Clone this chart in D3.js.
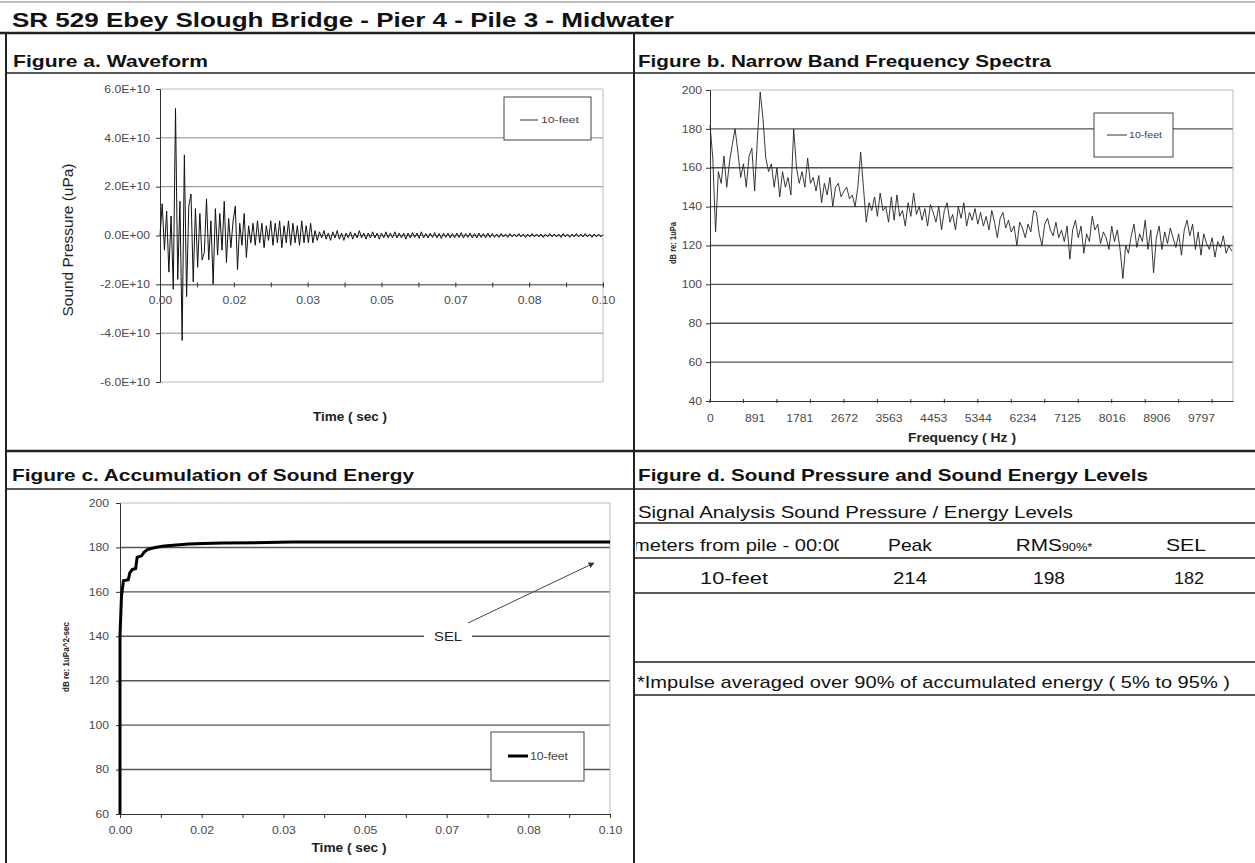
<!DOCTYPE html>
<html><head><meta charset="utf-8">
<script src="https://cdn.jsdelivr.net/npm/d3@7"></script>
<style>body{margin:0;background:#fff}svg{display:block}</style>
</head><body>
<svg id="c" width="1255" height="863"></svg>
<script>
// ---------------- DATA ----------------
const pageTitle = "SR 529 Ebey Slough Bridge - Pier 4 - Pile 3 - Midwater";
const panelTitles = ["Figure a. Waveform","Figure b. Narrow Band Frequency Spectra","Figure c. Accumulation of Sound Energy","Figure d. Sound Pressure and Sound Energy Levels"];
const seriesName = "10-feet";

// Figure a: waveform, sampled every 0.0005 s, values in 1E10 uPa
const waveStep = 0.0005;
const waveValues = [
0,1.3,-0.6,1.0,-1.5,0.8,-2.2,5.2,-1.8,1.4,-4.3,3.3,-2.5,1.2,1.7,-1.9,1.1,-1.3,0.9,-1.0,
-0.7,1.5,-1.0,0.6,-2.0,1.1,-0.8,0.9,-0.6,1.4,-1.1,0.7,-0.5,0.6,1.2,-1.4,0.5,-0.4,0.9,-0.9,
0.4,-0.3,0.5,-0.4,0.6,-0.3,0.5,-0.5,0.4,-0.2,0.6,-0.4,0.5,-0.3,0.6,-0.5,0.4,-0.3,0.6,-0.4,
0.5,-0.3,0.4,-0.4,0.6,-0.3,0.4,-0.3,0.5,-0.3,0.2,-0.2,
0.15,-0.1,0.2,-0.15,0.1,-0.2,0.15,-0.1,0.2,-0.15,
0.1,-0.2,0.1,-0.1,0.15,-0.15,0.1,-0.1,0.2,-0.1,
0.1,-0.15,0.1,-0.1,0.15,-0.1,0.1,-0.15,0.1,-0.1,
0.15,-0.1,0.1,-0.1,0.15,-0.1,0.1,-0.1,0.1,-0.15,
0.1,-0.1,0.12,-0.08,0.1,-0.12,0.15,-0.1,0.08,-0.1,
0.1,-0.08,0.12,-0.1,0.08,-0.12,0.1,-0.08,0.1,-0.1,
0.08,-0.1,0.1,-0.08,0.12,-0.1,0.08,-0.08,0.1,-0.1,
0.08,-0.1,0.1,-0.08,0.08,-0.1,0.1,-0.08,0.08,-0.08,
0.06,-0.08,0.08,-0.06,0.06,-0.08,0.08,-0.06,0.06,-0.06,
0.08,-0.06,0.06,-0.08,0.06,-0.06,0.08,-0.06,0.06,-0.06,
0.06,-0.08,0.06,-0.06,0.08,-0.06,0.06,-0.06,0.06,-0.08,
0.08,-0.06,0.06,-0.08,0.06,-0.06,0.08,-0.06,0.06,-0.06,
0.08,-0.06,0.06,-0.08,0.06,-0.06,0.06,-0.06,0.04
];
const pressureTicks = [6,4,2,0,-2,-4,-6];
const pressureTickLabels = ["6.0E+10","4.0E+10","2.0E+10","0.0E+00","-2.0E+10","-4.0E+10","-6.0E+10"];
const timeTickLabels = ["0.00","0.02","0.03","0.05","0.07","0.08","0.10"];

// Figure b: narrow band spectrum, one value every 891/16 Hz, dB re 1uPa
const freqStep = 891/16;
const spectrumValues = [
182,165,127,158,152,166,150,163,172,180,168,155,162,150,166,170,148,
175,199,185,165,158,162,150,160,145,158,150,155,146,180,160,152,
158,150,165,152,155,148,156,142,152,146,155,140,150,152,145,148,
150,144,146,140,150,168,150,132,142,138,145,135,147,138,140,132,
145,133,146,135,138,130,142,135,147,136,140,133,139,130,141,137,
132,140,128,138,142,132,136,128,140,134,142,130,137,133,139,131,
137,130,135,128,138,132,124,134,137,129,133,127,130,120,132,129,
124,131,127,138,137,126,120,131,134,128,125,132,124,128,122,130,
113,128,133,124,130,116,126,122,135,128,131,121,127,124,118,130,
122,128,118,103,120,116,125,131,119,126,122,133,118,128,106,124,
130,118,127,121,129,124,119,126,115,128,133,125,131,118,127,115,
126,121,118,124,114,122,119,125,116,120,117
];
const freqTickLabels = ["0","891","1781","2672","3563","4453","5344","6234","7125","8016","8906","9797"];
const dbTicksB = [200,180,160,140,120,100,80,60,40];

// Figure c: accumulated sound energy
const selTimes  = [0,0,0.0003,0.0007,0.0017,0.0020,0.0025,0.0032,0.0035,0.0044,0.0049,0.0056,0.0065,0.0075,0.0090,0.0115,0.0140,0.0170,0.0210,0.0300,0.0350,0.0600,0.1000];
const selValues = [60,140,158,165,165.5,168.5,170,170.5,175.5,176.2,177.8,179,179.6,180.1,180.6,181.1,181.5,181.8,182.0,182.2,182.4,182.4,182.4];
const dbTicksC = [200,180,160,140,120,100,80,60];

// Figure d: table
const tableTitle = "Signal Analysis Sound Pressure / Energy Levels";
const tableHeader = ["meters from pile - 00:00","Peak","RMS","SEL"];
const tableRow = ["10-feet","214","198","182"];
const footnote = "*Impulse averaged over 90% of accumulated energy ( 5% to 95% )";

// ---------------- DRAW ----------------
const FONT = "Arial, 'Liberation Sans', Helvetica, sans-serif";
const SX = 1.22; // horizontal stretch of the reference's lettering
const svg = d3.select("#c").style("font-family", FONT);
svg.append("rect").attr("width",1255).attr("height",863).attr("fill","#fff");

function line(x1,y1,x2,y2,w,c){return svg.append("line").attr("x1",x1).attr("y1",y1).attr("x2",x2).attr("y2",y2).attr("stroke",c).attr("stroke-width",w);}
function text(x,y,s,size,opts={}){
  const t = svg.append("text").attr("x",x).attr("y",y).text(s).attr("font-size",size)
    .attr("fill",opts.fill||"#111").attr("font-weight",opts.weight||"normal")
    .attr("text-anchor",opts.anchor||"start");
  if(opts.len) t.attr("textLength",opts.len).attr("lengthAdjust","spacingAndGlyphs");
  if(opts.rotate) t.attr("transform",`rotate(-90,${x},${y})`);
  return t;
}
function styleTicks(sel, fill){
  sel.selectAll("text").attr("font-size",10).attr("fill",fill).attr("font-family",FONT);
}

// page frame
line(0,2,1255,2,1.5,"#aaa");
text(12,27,pageTitle,20,{weight:"bold",len:662});
line(0,33,1255,33,2.5,"#222");
line(6,33,6,863,2,"#222");
line(634,33,634,863,2,"#222");
line(6,451,1255,451,2.5,"#222");
line(6,73,1255,73,1.5,"#222");
line(6,489,1255,489,1.5,"#222");
text(13,67,panelTitles[0],16.5,{weight:"bold",len:195});
text(638,67,panelTitles[1],16.5,{weight:"bold",len:413});
text(12,481,panelTitles[2],16.5,{weight:"bold",len:402});
text(638,481,panelTitles[3],16.5,{weight:"bold",len:510});

const tickFill = "#4a4a4a";

// ---------- Figure a ----------
(function(){
  const x = d3.scaleLinear([0,0.1],[160,603]);
  const y = d3.scaleLinear([-6,6],[382,89]);
  const g = svg.append("g");
  pressureTicks.forEach(v=>{
    if(v===-2) return;
    const edge = (v===6||v===-6);
    g.append("line").attr("x1",x(0)).attr("x2",x(0.1)).attr("y1",y(v)).attr("y2",y(v))
      .attr("stroke", edge?"#bbb":"#888").attr("stroke-width",1);
  });
  g.append("line").attr("x1",x(0.1)).attr("x2",x(0.1)).attr("y1",y(6)).attr("y2",y(-6)).attr("stroke","#bbb");
  const ya = d3.axisLeft(y).tickValues(pressureTicks).tickSize(4).tickFormat((d,i)=>pressureTickLabels[i]);
  const yg = g.append("g").attr("transform",`translate(${x(0)},0)`).call(ya);
  yg.select(".domain").attr("stroke","#333");
  yg.selectAll(".tick line").attr("stroke","#333");
  styleTicks(yg,tickFill);
  yg.selectAll("text").attr("x",-10/SX).attr("transform",`scale(${SX},1)`);
  const minor = d3.range(0,13).map(i=>i*0.1/12);
  const xa = d3.axisBottom(x).tickValues(minor).tickSize(3).tickFormat((d,i)=> i%2===0 ? timeTickLabels[i/2] : "");
  const xg = g.append("g").attr("transform",`translate(0,${y(-2)})`).call(xa);
  xg.select(".domain").attr("stroke","#333");
  xg.selectAll(".tick line").attr("stroke","#333").attr("y1",-2);
  styleTicks(xg,tickFill);
  xg.selectAll("text").attr("y",20).attr("dy",0).attr("transform",`scale(${SX},1)`);
  const lg = d3.line().x((d,i)=>x(i*waveStep)).y(d=>y(d));
  g.append("path").datum(waveValues).attr("d",lg).attr("fill","none").attr("stroke","#111").attr("stroke-width",1);
  text(68,240,"Sound Pressure (uPa)",14.5,{anchor:"middle",rotate:true,fill:"#222",len:153}).attr("dy","0.35em");
  text(350,421,"Time ( sec )",12.5,{anchor:"middle",weight:"bold",fill:"#222",len:74});
  g.append("rect").attr("x",504).attr("y",97).attr("width",87).attr("height",43).attr("fill","#fff").attr("stroke","#444");
  g.append("line").attr("x1",520).attr("x2",538).attr("y1",120).attr("y2",120).attr("stroke","#333");
  text(541,123,seriesName,9,{fill:"#444",len:38});
})();

// ---------- Figure b ----------
(function(){
  const x = d3.scaleLinear([0,10440],[710,1233]);
  const y = d3.scaleLinear([40,200],[401,90]);
  const g = svg.append("g");
  dbTicksB.forEach(v=>{
    if(v===40) return;
    g.append("line").attr("x1",x(0)).attr("x2",x(10440)).attr("y1",y(v)).attr("y2",y(v))
      .attr("stroke", v===200?"#bbb":"#555").attr("stroke-width", v===200?1:1.4);
  });
  g.append("line").attr("x1",x(10440)).attr("x2",x(10440)).attr("y1",y(200)).attr("y2",y(40)).attr("stroke","#bbb");
  const ya = d3.axisLeft(y).tickValues(dbTicksB).tickSize(4);
  const yg = g.append("g").attr("transform",`translate(${x(0)},0)`).call(ya);
  yg.select(".domain").attr("stroke","#333");
  yg.selectAll(".tick line").attr("stroke","#333");
  styleTicks(yg,tickFill);
  yg.selectAll("text").attr("x",-8/SX).attr("transform",`scale(${SX},1)`);
  const labVals = freqTickLabels.map((s,i)=>i*freqStep*16);
  const xa = d3.axisBottom(x).tickValues(labVals).tickSize(0).tickFormat((d,i)=>freqTickLabels[i]);
  const xg = g.append("g").attr("transform",`translate(0,${y(40)})`).call(xa);
  xg.select(".domain").attr("stroke","#333");
  styleTicks(xg,tickFill);
  xg.selectAll("text").attr("y",21).attr("dy",0).attr("transform",`scale(${SX},1)`);
  const minor = d3.range(0,16).map(i=>i*freqStep*12);
  minor.forEach(v=>{ if(v<=10440) g.append("line").attr("x1",x(v)).attr("x2",x(v)).attr("y1",y(40)-2).attr("y2",y(40)+2).attr("stroke","#333"); });
  const lg = d3.line().x((d,i)=>x(i*freqStep)).y(d=>y(d));
  g.append("path").datum(spectrumValues).attr("d",lg).attr("fill","none").attr("stroke","#222").attr("stroke-width",0.9);
  text(673,243,"dB re: 1uPa",9,{anchor:"middle",rotate:true,weight:"bold",fill:"#222",len:42}).attr("dy","0.35em");
  text(962,442,"Frequency ( Hz )",13,{anchor:"middle",weight:"bold",fill:"#222",len:108});
  g.append("rect").attr("x",1094).attr("y",113).attr("width",79).attr("height",44).attr("fill","#fff").attr("stroke","#444");
  g.append("line").attr("x1",1107).attr("x2",1127).attr("y1",135).attr("y2",135).attr("stroke","#333");
  text(1129,138,seriesName,9,{fill:"#444",len:33});
})();

// ---------- Figure c ----------
(function(){
  const x = d3.scaleLinear([0,0.1],[120,610]);
  const y = d3.scaleLinear([60,200],[814,503]);
  const g = svg.append("g");
  dbTicksC.forEach(v=>{
    if(v===60) return;
    g.append("line").attr("x1",x(0)).attr("x2",x(0.1)).attr("y1",y(v)).attr("y2",y(v))
      .attr("stroke", v===200?"#bbb":"#555").attr("stroke-width", v===200?1:1.4);
  });
  g.append("line").attr("x1",x(0.1)).attr("x2",x(0.1)).attr("y1",y(200)).attr("y2",y(60)).attr("stroke","#bbb");
  const ya = d3.axisLeft(y).tickValues(dbTicksC).tickSize(4);
  const yg = g.append("g").attr("transform",`translate(${x(0)},0)`).call(ya);
  yg.select(".domain").attr("stroke","#333");
  yg.selectAll(".tick line").attr("stroke","#333");
  styleTicks(yg,tickFill);
  yg.selectAll("text").attr("x",-11/SX).attr("transform",`scale(${SX},1)`);
  const minor = d3.range(0,13).map(i=>i*0.1/12);
  const xa = d3.axisBottom(x).tickValues(minor).tickSize(4).tickFormat((d,i)=> i%2===0 ? timeTickLabels[i/2] : "");
  const xg = g.append("g").attr("transform",`translate(0,${y(60)})`).call(xa);
  xg.select(".domain").attr("stroke","#333");
  xg.selectAll(".tick line").attr("stroke","#333");
  styleTicks(xg,tickFill);
  xg.selectAll("text").attr("y",20).attr("dy",0).attr("transform",`scale(${SX},1)`);
  // SEL annotation
  g.append("rect").attr("x",424).attr("y",626).attr("width",48).attr("height",20).attr("fill","#fff");
  text(448,641,"SEL",13,{anchor:"middle",fill:"#222",len:28});
  svg.append("defs").append("marker").attr("id","ah").attr("viewBox","0 0 10 10").attr("refX",9).attr("refY",5)
    .attr("markerWidth",6).attr("markerHeight",6).attr("orient","auto")
    .append("path").attr("d","M0,0L10,5L0,10z").attr("fill","#333");
  g.append("line").attr("x1",468).attr("y1",623).attr("x2",594).attr("y2",563).attr("stroke","#444").attr("stroke-width",1).attr("marker-end","url(#ah)");
  const lg = d3.line().x((d,i)=>x(selTimes[i])).y(d=>y(d));
  g.append("path").datum(selValues).attr("d",lg).attr("fill","none").attr("stroke","#000").attr("stroke-width",3);
  text(66,657,"dB re: 1uPa^2-sec",9,{anchor:"middle",rotate:true,weight:"bold",fill:"#222",len:70}).attr("dy","0.35em");
  text(349,852,"Time ( sec )",12.5,{anchor:"middle",weight:"bold",fill:"#222",len:75});
  g.append("rect").attr("x",491).attr("y",732).attr("width",93).attr("height",49).attr("fill","#fff").attr("stroke","#444");
  g.append("line").attr("x1",508).attr("x2",528).attr("y1",756).attr("y2",756).attr("stroke","#000").attr("stroke-width",3);
  text(530,760,seriesName,10,{fill:"#444",len:38});
})();

// ---------- Figure d ----------
(function(){
  const lc = "#222";
  text(638,518,tableTitle,17,{fill:"#111",len:435});
  line(634,523,1255,523,1.5,lc);
  line(634,558,1255,558,1.5,lc);
  line(634,593,1255,593,1.5,lc);
  line(634,662,1255,662,1.5,lc);
  line(634,695,1255,695,1.5,lc);
  [841,979,1118].forEach(xv=>line(xv,523,593,1.2,lc));
  svg.append("clipPath").attr("id","cell0").append("rect").attr("x",636).attr("y",523).attr("width",203).attr("height",35);
  svg.append("text").attr("x",633).attr("y",551).attr("font-size",17).attr("fill","#111").attr("clip-path","url(#cell0)")
    .attr("textLength",212).attr("lengthAdjust","spacingAndGlyphs").text(tableHeader[0]);
  text(910,551,tableHeader[1],17,{anchor:"middle",len:44});
  const rg = svg.append("g").attr("transform",`translate(1054,551) scale(${SX},1)`);
  const rms = rg.append("text").attr("text-anchor","middle").attr("font-size",17).attr("fill","#111").text(tableHeader[2]);
  rms.append("tspan").attr("font-size",10.5).text("90%*");
  text(1186,551,tableHeader[3],17,{anchor:"middle",len:40});
  text(734,584,tableRow[0],17,{anchor:"middle",len:68});
  text(910,584,tableRow[1],17,{anchor:"middle",len:34});
  text(1049,584,tableRow[2],17,{anchor:"middle",len:32});
  text(1189,584,tableRow[3],17,{anchor:"middle",len:30});
  text(637,688,footnote,17,{fill:"#111",len:593});
})();
</script>
</body></html>
